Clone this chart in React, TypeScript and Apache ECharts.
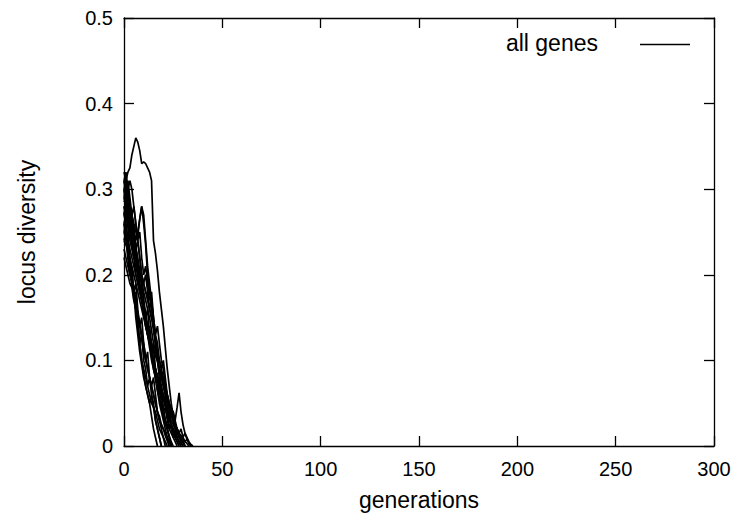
import React, { useEffect, useRef } from "react";
import * as echarts from "echarts";

const xTicks = [0, 50, 100, 150, 200, 250, 300];
const yTicks = [0, 0.1, 0.2, 0.3, 0.4, 0.5];
const legendLabel = "all genes";

const runA = [0.30, 0.31, 0.32, 0.325, 0.34, 0.35, 0.36, 0.355, 0.345, 0.33, 0.332, 0.33, 0.325, 0.32, 0.31, 0.24, 0.225, 0.205, 0.18, 0.16, 0.14, 0.115, 0.09, 0.07, 0.05, 0.035, 0.02, 0.01, 0.004, 0];
const runB = [0.32, 0.31, 0.29, 0.28, 0.27, 0.255, 0.24, 0.25, 0.265, 0.28, 0.27, 0.24, 0.21, 0.19, 0.17, 0.145, 0.12, 0.10, 0.08, 0.06, 0.045, 0.03, 0.02, 0.01, 0];
const runC = [0.27, 0.26, 0.24, 0.22, 0.2, 0.18, 0.15, 0.13, 0.11, 0.095, 0.08, 0.07, 0.06, 0.05, 0.035, 0.02, 0.01, 0];
const runD = [0.25, 0.24, 0.22, 0.21, 0.19, 0.18, 0.16, 0.14, 0.12, 0.10, 0.085, 0.07, 0.06, 0.05, 0.06, 0.045, 0.03, 0.02, 0.01, 0];
const runE = [0.31, 0.29, 0.3, 0.27, 0.26, 0.25, 0.235, 0.21, 0.2, 0.195, 0.17, 0.155, 0.14, 0.12, 0.105, 0.09, 0.08, 0.065, 0.05, 0.04, 0.03, 0.02, 0.01, 0];
const runF = [0.28, 0.27, 0.26, 0.25, 0.235, 0.22, 0.215, 0.2, 0.19, 0.18, 0.165, 0.15, 0.135, 0.125, 0.11, 0.095, 0.08, 0.07, 0.055, 0.045, 0.035, 0.025, 0.02, 0.012, 0.005, 0];
const runG = [0.22, 0.21, 0.2, 0.19, 0.185, 0.17, 0.16, 0.15, 0.14, 0.125, 0.11, 0.1, 0.09, 0.08, 0.07, 0.06, 0.05, 0.04, 0.03, 0.025, 0.02, 0.015, 0.01, 0.005, 0];
const runH = [0.26, 0.27, 0.26, 0.25, 0.24, 0.225, 0.21, 0.2, 0.185, 0.17, 0.16, 0.15, 0.14, 0.125, 0.115, 0.1, 0.09, 0.08, 0.07, 0.06, 0.06, 0.05, 0.045, 0.035, 0.025, 0.02, 0.01, 0.005, 0];
const runI = [0.3, 0.29, 0.28, 0.265, 0.25, 0.245, 0.23, 0.22, 0.205, 0.19, 0.18, 0.17, 0.16, 0.15, 0.135, 0.12, 0.11, 0.1, 0.09, 0.08, 0.07, 0.06, 0.05, 0.04, 0.03, 0.025, 0.02, 0.015, 0.01, 0.005, 0];
const runJ = [0.24, 0.235, 0.23, 0.22, 0.21, 0.2, 0.19, 0.18, 0.17, 0.16, 0.15, 0.14, 0.13, 0.12, 0.11, 0.1, 0.09, 0.08, 0.075, 0.07, 0.06, 0.055, 0.05, 0.045, 0.04, 0.035, 0.03, 0.045, 0.062, 0.04, 0.025, 0.015, 0.01, 0.005, 0.002, 0];
const runK = [0.29, 0.28, 0.27, 0.26, 0.24, 0.23, 0.22, 0.215, 0.2, 0.195, 0.19, 0.18, 0.175, 0.16, 0.15, 0.14, 0.125, 0.11, 0.1, 0.09, 0.08, 0.07, 0.06, 0.05, 0.045, 0.04, 0.03, 0.02, 0.015, 0.01, 0.008, 0.005, 0.003, 0];
const runL = [0.27, 0.28, 0.29, 0.28, 0.27, 0.26, 0.25, 0.245, 0.265, 0.28, 0.26, 0.235, 0.2, 0.18, 0.16, 0.14, 0.12, 0.1, 0.085, 0.07, 0.055, 0.045, 0.035, 0.025, 0.02, 0.01, 0.005, 0];
const runM = [0.23, 0.22, 0.21, 0.2, 0.19, 0.18, 0.17, 0.155, 0.145, 0.13, 0.12, 0.105, 0.09, 0.08, 0.07, 0.06, 0.05, 0.04, 0.035, 0.025, 0.02, 0.012, 0.006, 0];
const runN = [0.285, 0.29, 0.3, 0.31, 0.3, 0.28, 0.26, 0.24, 0.22, 0.2, 0.19, 0.18, 0.17, 0.16, 0.15, 0.135, 0.12, 0.105, 0.09, 0.08, 0.07, 0.06, 0.05, 0.045, 0.04, 0.03, 0.02, 0.018, 0.012, 0.008, 0.004, 0];
const runO = [0.26, 0.25, 0.23, 0.21, 0.19, 0.175, 0.16, 0.14, 0.12, 0.1, 0.09, 0.08, 0.07, 0.06, 0.05, 0.045, 0.04, 0.03, 0.02, 0.015, 0.01, 0.005, 0];
const runP = [0.31, 0.32, 0.3, 0.28, 0.26, 0.24, 0.22, 0.21, 0.19, 0.17, 0.16, 0.145, 0.13, 0.12, 0.11, 0.1, 0.09, 0.08, 0.07, 0.065, 0.06, 0.05, 0.04, 0.03, 0.025, 0.02, 0.015, 0.01, 0.012, 0.008, 0.005, 0];
const runQ = [0.25, 0.26, 0.24, 0.23, 0.22, 0.21, 0.2, 0.19, 0.18, 0.17, 0.16, 0.15, 0.14, 0.13, 0.12, 0.11, 0.105, 0.1, 0.09, 0.085, 0.075, 0.065, 0.055, 0.045, 0.035, 0.03, 0.025, 0.02, 0.015, 0.012, 0.01, 0.015, 0.008, 0.004, 0];
const runR = [0.28, 0.27, 0.255, 0.24, 0.23, 0.22, 0.2, 0.19, 0.18, 0.17, 0.155, 0.14, 0.13, 0.115, 0.1, 0.09, 0.08, 0.065, 0.055, 0.045, 0.04, 0.03, 0.025, 0.02, 0.015, 0.01, 0.012, 0.01, 0.006, 0.003, 0];
const runS = [0.3, 0.27, 0.29, 0.25, 0.26, 0.22, 0.23, 0.2, 0.19, 0.2, 0.17, 0.15, 0.16, 0.13, 0.11, 0.12, 0.09, 0.08, 0.06, 0.065, 0.04, 0.03, 0.02, 0.01, 0];
const runT = [0.27, 0.29, 0.26, 0.27, 0.24, 0.22, 0.235, 0.21, 0.18, 0.19, 0.16, 0.14, 0.13, 0.14, 0.12, 0.1, 0.08, 0.085, 0.07, 0.05, 0.04, 0.045, 0.03, 0.02, 0.025, 0.015, 0.01, 0.005, 0];
const runU = [0.24, 0.25, 0.22, 0.2, 0.21, 0.18, 0.19, 0.16, 0.14, 0.15, 0.12, 0.1, 0.11, 0.08, 0.07, 0.08, 0.06, 0.04, 0.03, 0.02, 0.01, 0];
const runV = [0.31, 0.3, 0.31, 0.29, 0.27, 0.28, 0.26, 0.24, 0.25, 0.22, 0.2, 0.21, 0.19, 0.17, 0.18, 0.15, 0.13, 0.12, 0.1, 0.09, 0.1, 0.08, 0.06, 0.05, 0.04, 0.03, 0.025, 0.02, 0.01, 0.012, 0.006, 0];
const runW = [0.26, 0.24, 0.25, 0.21, 0.2, 0.17, 0.18, 0.15, 0.12, 0.13, 0.1, 0.09, 0.07, 0.08, 0.06, 0.05, 0.03, 0.02, 0.01, 0];
const runX = [0.29, 0.3, 0.28, 0.26, 0.27, 0.25, 0.23, 0.24, 0.22, 0.2, 0.19, 0.2, 0.18, 0.16, 0.17, 0.15, 0.13, 0.14, 0.12, 0.1, 0.09, 0.07, 0.06, 0.05, 0.035, 0.04, 0.025, 0.02, 0.015, 0.02, 0.01, 0.005, 0.008, 0.003, 0];

const runs = [runA, runB, runC, runD, runE, runF, runG, runH, runI, runJ, runK, runL, runM, runN, runO, runP, runQ, runR, runS, runT, runU, runV, runW, runX];

const FONT = "'Liberation Sans', Arial, Helvetica, sans-serif";

export default function App() {
  const ref = useRef<HTMLDivElement>(null);
  useEffect(() => {
    if (!ref.current) return;
    const chart = echarts.init(ref.current, null, { renderer: "svg" });
    const tickStyle = { color: "#000", fontFamily: FONT, fontSize: 20 };
    const titleStyle = { color: "#000", fontFamily: FONT, fontSize: 23 };
    const axisBase = {
      type: "value" as const,
      axisLine: { show: true, onZero: false, lineStyle: { color: "#000", width: 1.3 } },
      axisTick: { show: true, inside: true, length: 10, lineStyle: { color: "#000", width: 1.3 } },
      splitLine: { show: false },
      minorTick: { show: false },
    };
    chart.setOption({
      animation: false,
      backgroundColor: "#fff",
      textStyle: tickStyle,
      grid: { left: 124, right: 32, top: 18, bottom: 81, containLabel: false },
      xAxis: [
        {
          ...axisBase,
          position: "bottom",
          min: xTicks[0],
          max: xTicks[xTicks.length - 1],
          interval: 50,
          axisLabel: { ...tickStyle, margin: 13 },
          name: "generations",
          nameLocation: "middle",
          nameGap: 42,
          nameTextStyle: titleStyle,
        },
        {
          ...axisBase,
          position: "top",
          min: xTicks[0],
          max: xTicks[xTicks.length - 1],
          interval: 50,
          axisLabel: { show: false },
        },
      ],
      yAxis: [
        {
          ...axisBase,
          position: "left",
          min: yTicks[0],
          max: yTicks[yTicks.length - 1],
          interval: 0.1,
          axisLabel: { ...tickStyle, margin: 11, formatter: (v: number) => (v === 0 ? "0" : v.toFixed(1)) },
          name: "locus diversity",
          nameLocation: "middle",
          nameGap: 86,
          nameRotate: 90,
          nameTextStyle: titleStyle,
        },
        {
          ...axisBase,
          position: "right",
          min: yTicks[0],
          max: yTicks[yTicks.length - 1],
          interval: 0.1,
          axisLabel: { show: false },
        },
      ],
      graphic: [
        {
          type: "text",
          right: 148,
          top: 31,
          style: { text: legendLabel, fill: "#000", font: `23px ${FONT}`, textAlign: "right" },
        },
        {
          type: "line",
          shape: { x1: 640, y1: 44.5, x2: 690, y2: 44.5 },
          style: { stroke: "#000", lineWidth: 1.5 },
        },
      ],
      series: runs.map((r, i) => ({
        type: "line",
        name: i === 0 ? legendLabel : `run ${i + 1}`,
        xAxisIndex: 0,
        yAxisIndex: 0,
        showSymbol: false,
        symbol: "none",
        lineStyle: { color: "#000", width: 1.7 },
        itemStyle: { color: "#000" },
        data: r.map((v, g) => [g, v]),
      })),
    });
    return () => chart.dispose();
  }, []);
  return <div ref={ref} style={{ width: 746, height: 527, margin: -8 }} />;
}
